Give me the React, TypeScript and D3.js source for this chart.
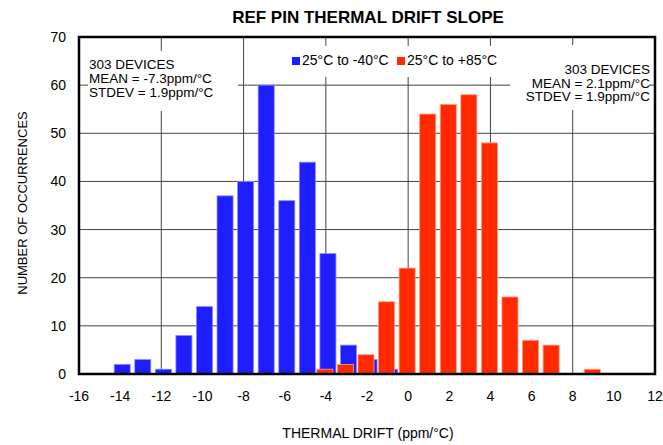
import React from 'react';
import * as d3 from 'd3';

// histogram bins (ppm/°C) and counts
const coldBins = [-14, -13, -12, -11, -10, -9, -8, -7, -6, -5, -4, -3, -2, -1];
const coldCounts = [2, 3, 1, 8, 14, 37, 40, 60, 36, 44, 25, 6, 3, 1];
const hotBins = [-4, -3, -2, -1, 0, 1, 2, 3, 4, 5, 6, 7, 8, 9];
const hotCounts = [1, 2, 4, 15, 22, 54, 56, 58, 48, 16, 7, 6, 0, 1];

const xTicks = [-16, -14, -12, -10, -8, -6, -4, -2, 0, 2, 4, 6, 8, 10, 12];
const xGrid = [-12, -8, -4, 0, 4, 8];
const yTicks = [0, 10, 20, 30, 40, 50, 60, 70];

const leftNote = ['303 DEVICES', 'MEAN = -7.3ppm/°C', 'STDEV = 1.9ppm/°C'];
const rightNote = ['303 DEVICES', 'MEAN = 2.1ppm/°C', 'STDEV = 1.9ppm/°C'];
const legendItems = ['25°C to -40°C', '25°C to +85°C'];

const W = 663;
const H = 445;
const FONT = 'Liberation Sans, Arial, sans-serif';
const BLUE = '#1e1eff';
const RED = '#ff2a00';

const App: React.FC = () => {
  const x = d3.scaleLinear().domain([-16, 12]).range([79, 655]);
  const y = d3.scaleLinear().domain([0, 70]).range([374, 37]);
  const barW = 0.78;

  const bars = (bins: number[], counts: number[], shift: number, fill: string, stroke: string) =>
    bins.map((b, i) =>
      counts[i] > 0 ? (
        <rect
          key={b}
          x={x(b + shift - barW / 2)}
          y={y(counts[i])}
          width={x(barW) - x(0)}
          height={y(0) - y(counts[i])}
          fill={fill}
          stroke={stroke}
          strokeWidth={0.8}
        />
      ) : null
    );

  return (
    <div style={{ position: 'absolute', left: 0, top: 0 }}>
      <svg width={W} height={H} style={{ display: 'block', background: '#fff' }} fontFamily={FONT}>
        <text x={368} y={23} textAnchor="middle" fontWeight="bold" fontSize={17}>
          REF PIN THERMAL DRIFT SLOPE
        </text>

        {/* grid */}
        {yTicks.slice(1, -1).map(t => (
          <line key={'h' + t} x1={x(-16)} x2={x(12)} y1={y(t)} y2={y(t)} stroke="#444" strokeWidth={1} />
        ))}
        {xGrid.map(t => (
          <line key={'v' + t} x1={x(t)} x2={x(t)} y1={y(0)} y2={y(70)} stroke="#444" strokeWidth={1} />
        ))}

        {/* white boxes behind notes and legend */}
        <rect x={88} y={51} width={150} height={60} fill="#fff" />
        <rect x={510} y={45} width={139} height={65} fill="#fff" />
        <rect x={289} y={46} width={212} height={31} fill="#fff" />

        {bars(coldBins, coldCounts, 0.1, BLUE, '#8a8aff')}
        {bars(hotBins, hotCounts, -0.05, RED, '#ff9c85')}

        {/* frame */}
        <rect x={x(-16)} y={y(70)} width={x(12) - x(-16)} height={y(0) - y(70)} fill="none" stroke="#000" strokeWidth={2.5} />

        {xTicks.map(t => (
          <text key={'xt' + t} x={x(t)} y={401} textAnchor="middle" fontSize={14}>
            {t}
          </text>
        ))}
        {yTicks.map(t => (
          <text key={'yt' + t} x={66} y={y(t) + 5} textAnchor="end" fontSize={14}>
            {t}
          </text>
        ))}

        <text x={368} y={438} textAnchor="middle" fontSize={14}>
          THERMAL DRIFT (ppm/°C)
        </text>
        <text transform="translate(27,203) rotate(-90)" textAnchor="middle" fontSize={13}>
          NUMBER OF OCCURRENCES
        </text>

        {/* legend */}
        <rect x={292} y={57} width={8} height={8} fill={BLUE} />
        <text x={302} y={65} fontSize={14}>{legendItems[0]}</text>
        <rect x={397} y={57} width={8} height={8} fill={RED} />
        <text x={407} y={65} fontSize={14}>{legendItems[1]}</text>

        {leftNote.map((s, i) => (
          <text key={'l' + i} x={89} y={69 + i * 14} fontSize={13.5}>{s}</text>
        ))}
        {rightNote.map((s, i) => (
          <text key={'r' + i} x={650} y={74 + i * 13.5} textAnchor="end" fontSize={13.5}>{s}</text>
        ))}
      </svg>
    </div>
  );
};

export default App;
